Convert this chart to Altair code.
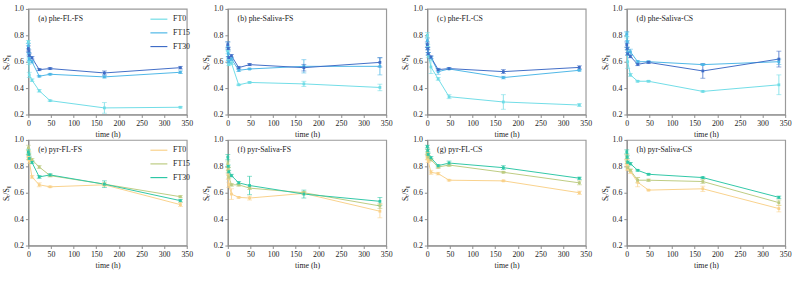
import altair as alt
import pandas as pd

# Sampling times (h)
hours = [0, 1, 2, 8, 24, 48, 168, 336]
series = ["FT0", "FT15", "FT30"]

# St/S0 means per panel, one list per freeze-thaw treatment
phe_fl_fs = {
    "FT0":  [0.75, 0.60, 0.50, 0.46, 0.38, 0.305, 0.25, 0.255],
    "FT15": [0.72, 0.66, 0.62, 0.60, 0.49, 0.505, 0.485, 0.52],
    "FT30": [0.70, 0.68, 0.65, 0.63, 0.54, 0.548, 0.515, 0.555],
}
phe_sal_fs = {
    "FT0":  [0.68, 0.62, 0.58, 0.59, 0.425, 0.443, 0.432, 0.405],
    "FT15": [0.72, 0.66, 0.60, 0.62, 0.535, 0.545, 0.565, 0.565],
    "FT30": [0.73, 0.70, 0.63, 0.645, 0.555, 0.578, 0.555, 0.595],
}
phe_fl_cs = {
    "FT0":  [0.80, 0.72, 0.65, 0.56, 0.47, 0.335, 0.295, 0.272],
    "FT15": [0.76, 0.70, 0.66, 0.63, 0.525, 0.545, 0.48, 0.535],
    "FT30": [0.73, 0.70, 0.66, 0.635, 0.54, 0.548, 0.525, 0.557],
}
phe_sal_cs = {
    "FT0":  [0.80, 0.70, 0.60, 0.50, 0.452, 0.452, 0.375, 0.425],
    "FT15": [0.81, 0.75, 0.67, 0.675, 0.60, 0.60, 0.578, 0.60],
    "FT30": [0.73, 0.70, 0.66, 0.64, 0.58, 0.595, 0.53, 0.62],
}
pyr_fl_fs = {
    "FT0":  [0.87, 0.86, 0.84, 0.72, 0.66, 0.645, 0.66, 0.51],
    "FT15": [0.94, 0.90, 0.86, 0.85, 0.795, 0.73, 0.665, 0.57],
    "FT30": [0.91, 0.89, 0.86, 0.83, 0.72, 0.735, 0.665, 0.54],
}
pyr_sal_fs = {
    "FT0":  [0.77, 0.72, 0.66, 0.59, 0.565, 0.56, 0.595, 0.46],
    "FT15": [0.82, 0.78, 0.72, 0.66, 0.66, 0.635, 0.60, 0.50],
    "FT30": [0.87, 0.80, 0.76, 0.73, 0.675, 0.655, 0.59, 0.535],
}
pyr_fl_cs = {
    "FT0":  [0.87, 0.86, 0.84, 0.755, 0.745, 0.695, 0.69, 0.60],
    "FT15": [0.91, 0.89, 0.87, 0.85, 0.795, 0.81, 0.755, 0.675],
    "FT30": [0.95, 0.92, 0.89, 0.865, 0.805, 0.825, 0.79, 0.71],
}
pyr_sal_cs = {
    "FT0":  [0.83, 0.81, 0.78, 0.76, 0.68, 0.62, 0.63, 0.48],
    "FT15": [0.87, 0.83, 0.79, 0.77, 0.695, 0.695, 0.685, 0.525],
    "FT30": [0.91, 0.87, 0.83, 0.82, 0.77, 0.74, 0.715, 0.565],
}

# Standard deviations (same layout as the means)
phe_fl_fs_sd = {
    "FT0":  [0.01, 0.02, 0.02, 0.01, 0.01, 0.005, 0.04, 0.005],
    "FT15": [0.02, 0.01, 0.01, 0.01, 0.005, 0.005, 0.008, 0.01],
    "FT30": [0.02, 0.01, 0.01, 0.01, 0.008, 0.008, 0.015, 0.01],
}
phe_sal_fs_sd = {
    "FT0":  [0.02, 0.01, 0.01, 0.01, 0.005, 0.005, 0.02, 0.025],
    "FT15": [0.03, 0.02, 0.01, 0.01, 0.01, 0.005, 0.05, 0.065],
    "FT30": [0.02, 0.01, 0.01, 0.01, 0.01, 0.008, 0.025, 0.035],
}
phe_fl_cs_sd = {
    "FT0":  [0.02, 0.01, 0.02, 0.05, 0.01, 0.015, 0.055, 0.01],
    "FT15": [0.02, 0.01, 0.01, 0.01, 0.02, 0.005, 0.01, 0.005],
    "FT30": [0.02, 0.01, 0.01, 0.01, 0.01, 0.008, 0.015, 0.012],
}
phe_sal_cs_sd = {
    "FT0":  [0.02, 0.01, 0.05, 0.01, 0.005, 0.005, 0.005, 0.075],
    "FT15": [0.02, 0.01, 0.02, 0.02, 0.01, 0.005, 0.005, 0.02],
    "FT30": [0.02, 0.01, 0.01, 0.01, 0.01, 0.008, 0.055, 0.06],
}
pyr_fl_fs_sd = {
    "FT0":  [0.02, 0.01, 0.02, 0.01, 0.015, 0.005, 0.01, 0.015],
    "FT15": [0.02, 0.01, 0.01, 0.01, 0.01, 0.01, 0.01, 0.008],
    "FT30": [0.02, 0.01, 0.01, 0.01, 0.01, 0.008, 0.025, 0.01],
}
pyr_sal_fs_sd = {
    "FT0":  [0.02, 0.02, 0.02, 0.04, 0.005, 0.015, 0.01, 0.05],
    "FT15": [0.02, 0.01, 0.01, 0.01, 0.01, 0.01, 0.01, 0.02],
    "FT30": [0.02, 0.01, 0.01, 0.01, 0.01, 0.07, 0.03, 0.03],
}
pyr_fl_cs_sd = {
    "FT0":  [0.02, 0.01, 0.01, 0.015, 0.01, 0.005, 0.005, 0.012],
    "FT15": [0.02, 0.01, 0.01, 0.01, 0.01, 0.01, 0.005, 0.015],
    "FT30": [0.01, 0.01, 0.01, 0.01, 0.01, 0.015, 0.015, 0.008],
}
pyr_sal_cs_sd = {
    "FT0":  [0.02, 0.01, 0.01, 0.015, 0.035, 0.005, 0.02, 0.025],
    "FT15": [0.02, 0.01, 0.01, 0.01, 0.02, 0.008, 0.015, 0.02],
    "FT30": [0.015, 0.01, 0.01, 0.01, 0.005, 0.005, 0.005, 0.01],
}

panels = [
    ("(a) phe-FL-FS", phe_fl_fs, phe_fl_fs_sd, "phe"),
    ("(b) phe-Saliva-FS", phe_sal_fs, phe_sal_fs_sd, "phe"),
    ("(c) phe-FL-CS", phe_fl_cs, phe_fl_cs_sd, "phe"),
    ("(d) phe-Saliva-CS", phe_sal_cs, phe_sal_cs_sd, "phe"),
    ("(e) pyr-FL-FS", pyr_fl_fs, pyr_fl_fs_sd, "pyr"),
    ("(f) pyr-Saliva-FS", pyr_sal_fs, pyr_sal_fs_sd, "pyr"),
    ("(g) pyr-FL-CS", pyr_fl_cs, pyr_fl_cs_sd, "pyr"),
    ("(h) pyr-Saliva-CS", pyr_sal_cs, pyr_sal_cs_sd, "pyr"),
]

palettes = {
    "phe": ["#6fdce6", "#4cb6e6", "#3f6cc6"],
    "pyr": ["#f9d18a", "#bccb80", "#2ec7a6"],
}

FONT = "Liberation Serif"
FS = 8
W, H = 162, 108


def panel(title, means, sds, compound, show_legend):
    rows = []
    for s in series:
        for t, m, e in zip(hours, means[s], sds[s]):
            rows.append({"t": t, "v": m, "lo": m - e, "hi": m + e, "series": s})
    df = pd.DataFrame(rows)

    scale = alt.Scale(domain=series, range=palettes[compound])
    if show_legend:
        legend = alt.Legend(
            title=None, orient="none", legendX=124, legendY=1,
            symbolType="stroke", symbolSize=300, symbolStrokeWidth=1.2,
            labelFont=FONT, labelFontSize=FS, labelColor="#222",
            rowPadding=0, labelOffset=5,
        )
        color = alt.Color("series:N", scale=scale, legend=legend)
    else:
        color = alt.Color("series:N", scale=scale, legend=None)
    plain = alt.Color("series:N", scale=scale, legend=None)

    x = alt.X(
        "t:Q",
        scale=alt.Scale(domain=[0, 350], nice=False),
        axis=alt.Axis(tickCount=7, title="time (h)", labelOverlap=False,
                      labelFlush=False, labelSeparation=0),
    )
    y = alt.Y(
        "v:Q",
        scale=alt.Scale(domain=[0.2, 1.0], nice=False),
        axis=alt.Axis(tickCount=4, format=".1f", title="Sₜ/S₀",
                      labelOverlap=False, labelFlush=False, labelSeparation=0),
    )
    base = alt.Chart(df)
    lines = base.mark_line(strokeWidth=1).encode(x=x, y=y, color=color)
    pts = base.mark_point(shape="square", filled=True, size=8, opacity=1).encode(
        x="t:Q", y="v:Q", color=plain)
    bars = base.mark_rule(strokeWidth=0.8).encode(
        x="t:Q", y="lo:Q", y2="hi:Q", color=plain)
    cap_lo = base.mark_tick(orient="horizontal", size=5, thickness=0.8).encode(
        x="t:Q", y="lo:Q", color=plain)
    cap_hi = base.mark_tick(orient="horizontal", size=5, thickness=0.8).encode(
        x="t:Q", y="hi:Q", color=plain)
    label = alt.Chart(pd.DataFrame({"txt": [title]})).mark_text(
        align="left", baseline="middle", font=FONT, fontSize=FS, color="#222"
    ).encode(x=alt.value(10), y=alt.value(10), text="txt:N")
    return alt.layer(lines, bars, cap_lo, cap_hi, pts, label).properties(width=W, height=H)


charts = [panel(t, m, s, c, i in (0, 4)) for i, (t, m, s, c) in enumerate(panels)]
top = alt.hconcat(*charts[:4], spacing=8)
bottom = alt.hconcat(*charts[4:], spacing=8)

chart = alt.vconcat(top, bottom, spacing=-4).properties(
    padding={"left": 2, "top": 1, "right": 2, "bottom": 2}
).resolve_scale(color="independent").configure_view(
    stroke="#9a9a9a", strokeWidth=1.2
).configure_axis(
    domainColor="#8a8a8a", tickColor="#8a8a8a", grid=False,
    tickSize=3, labelFont=FONT, labelFontSize=FS, labelColor="#222",
    titleFont=FONT, titleFontSize=FS, titleFontWeight="normal",
    titleColor="#222", labelPadding=2, titlePadding=3,
)

chart.save("out.html", embed_options={"renderer": "svg", "actions": False})
